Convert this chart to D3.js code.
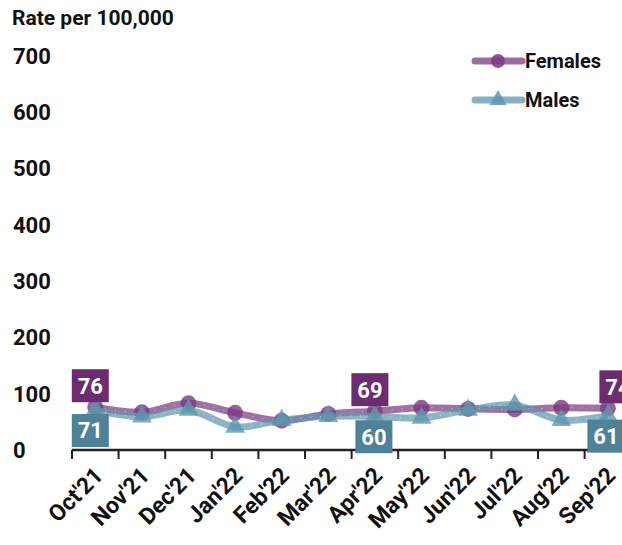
<!DOCTYPE html>
<html lang="en">
<head>
<meta charset="utf-8">
<script src="https://cdn.jsdelivr.net/npm/d3@7"></script>
<style>
  body { margin: 0; background: #fff; }
  svg text { font-family: Roboto, "Liberation Sans", sans-serif; font-weight: bold; }
</style>
</head>
<body>
<svg width="622" height="545"></svg>
<script>
// data
const months = ["Oct'21", "Nov'21", "Dec'21", "Jan'22", "Feb'22", "Mar'22",
                "Apr'22", "May'22", "Jun'22", "Jul'22", "Aug'22", "Sep'22"];
const females = [76, 67, 83, 66, 52, 64, 69, 75, 73, 72, 75, 74];
const males = [71, 59, 71, 41, 53, 60, 60, 57, 71, 80, 53, 61];
const yTicks = [0, 100, 200, 300, 400, 500, 600, 700];
const labelled = ["Oct'21", "Apr'22", "Sep'22"];

const femaleCol = "#7b3a7f", femaleBox = "#6b2c70";
const maleCol = "#5f97ad", maleBox = "#4e8298";

const svg = d3.select("svg");

const x = d3.scaleBand().domain(months).range([72, 631.2]);
const y = d3.scaleLinear().domain([0, 700]).range([450, 56]);
const cx = d => x(d) + x.bandwidth() / 2;

// title
svg.append("text").attr("x", 12).attr("y", 25)
  .attr("font-size", 21).attr("fill", "#111").text("Rate per 100,000");

// y labels (no axis line)
svg.append("g").selectAll("text").data(yTicks).enter().append("text")
  .attr("x", 13).attr("y", d => y(d)).attr("dy", "0.36em")
  .attr("font-size", 22).attr("fill", "#111")
  .text(d => d);

// x axis
const xa = svg.append("g").attr("transform", "translate(0,450)");
xa.append("line").attr("x1", 72).attr("x2", 622).attr("stroke", "#222").attr("stroke-width", 2.5);
xa.selectAll(".tk").data(months).enter().append("line")
  .attr("x1", d => x(d)).attr("x2", d => x(d))
  .attr("y1", 0).attr("y2", 9).attr("stroke", "#222").attr("stroke-width", 2);
xa.selectAll(".lb").data(months).enter().append("text")
  .attr("transform", d => "translate(" + (cx(d) + 9) + ",27) rotate(-45)")
  .attr("text-anchor", "end").attr("font-size", 23).attr("fill", "#111")
  .text(d => d);

const line = d3.line()
  .x((d, i) => cx(months[i]))
  .y(d => y(d))
  .curve(d3.curveCatmullRom.alpha(0.5));

function series(vals, col, shape) {
  const g = svg.append("g");
  g.append("path").datum(vals).attr("d", line)
    .attr("fill", "none").attr("stroke", col).attr("stroke-width", 7)
    .attr("stroke-opacity", 0.72).attr("stroke-linejoin", "round");
  g.append("path").datum(vals).attr("d", line)
    .attr("fill", "none").attr("stroke", "#fff").attr("stroke-width", 1)
    .attr("stroke-dasharray", "1,9").attr("stroke-opacity", 0.6);
  g.selectAll("path.m").data(vals).enter().append("path").attr("class", "m")
    .attr("transform", (d, i) => "translate(" + cx(months[i]) + "," + y(d) + ")")
    .attr("d", d3.symbol().type(shape).size(shape === d3.symbolCircle ? 200 : 170))
    .attr("fill", col).attr("fill-opacity", 0.8);
}
series(females, femaleCol, d3.symbolCircle);
series(males, maleCol, d3.symbolTriangle);

// value boxes (small horizontal nudges as in the original)
const nudgeF = { "Oct'21": -5, "Apr'22": -5, "Sep'22": 10 };
const nudgeM = { "Oct'21": -5, "Apr'22": -1, "Sep'22": -2 };
function boxes(vals, col, above, nudge) {
  const g = svg.append("g");
  labelled.forEach(m => {
    const i = months.indexOf(m);
    const px = cx(m) + nudge[m], py = y(vals[i]);
    const top = above ? py - 38 : py + 4;
    g.append("rect").attr("x", px - 18.5).attr("y", top).attr("width", 37).attr("height", 33)
      .attr("fill", col);
    g.append("text").attr("x", px).attr("y", top + 16.5).attr("dy", "0.36em")
      .attr("text-anchor", "middle").attr("font-size", 22).attr("fill", "#fff")
      .text(vals[i]);
  });
}
boxes(females, femaleBox, true, nudgeF);
boxes(males, maleBox, false, nudgeM);

// legend
const leg = [{ name: "Females", col: femaleCol, shape: d3.symbolCircle, y: 61 },
             { name: "Males", col: maleCol, shape: d3.symbolTriangle, y: 100 }];
const lg = svg.append("g");
leg.forEach(l => {
  lg.append("line").attr("x1", 475).attr("x2", 522).attr("y1", l.y).attr("y2", l.y)
    .attr("stroke", l.col).attr("stroke-width", 7).attr("stroke-opacity", 0.75)
    .attr("stroke-linecap", "round");
  lg.append("path").attr("transform", "translate(498," + l.y + ")")
    .attr("d", d3.symbol().type(l.shape).size(l.shape === d3.symbolCircle ? 150 : 130))
    .attr("fill", l.col).attr("fill-opacity", 0.85);
  lg.append("text").attr("x", 525).attr("y", l.y).attr("dy", "0.35em")
    .attr("font-size", 20).attr("fill", "#111").text(l.name);
});
</script>
</body>
</html>
